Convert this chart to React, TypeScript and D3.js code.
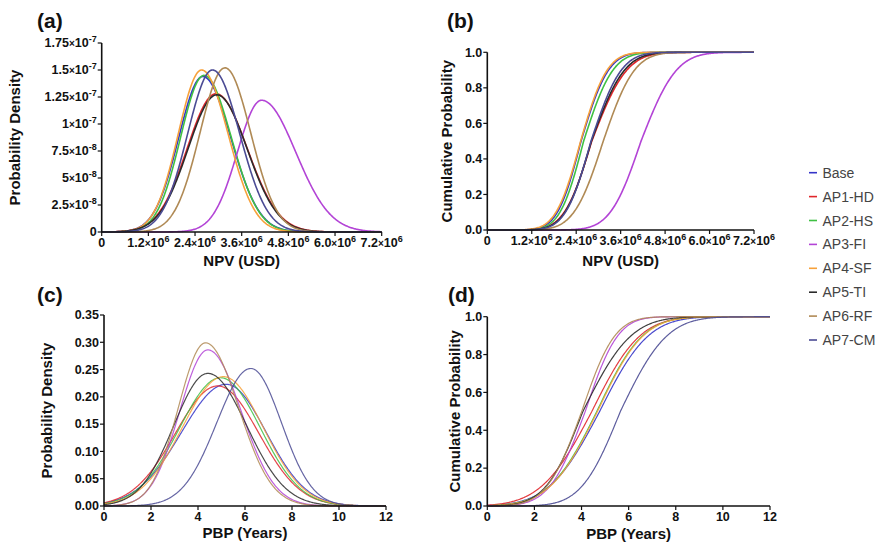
import React from "react";
import * as d3 from "d3";

const seriesNames = ["Base", "AP1-HD", "AP2-HS", "AP3-FI", "AP4-SF", "AP5-TI", "AP6-RF", "AP7-CM"];
const seriesColors = ["#3535c8", "#e0262b", "#3fc043", "#b344d6", "#f7a13a", "#2b2b2b", "#b08a55", "#4b4b94"];

// (a) NPV probability density: mode (×10^6 USD), peak (×10^-7), left/right spread (×10^6)
const npvPdfMode = [2.60, 2.94, 2.63, 4.11, 2.57, 2.96, 3.17, 2.85];
const npvPdfPeak = [1.44, 1.28, 1.45, 1.22, 1.50, 1.27, 1.52, 1.50];
const npvPdfSdL = [0.62, 0.74, 0.60, 0.62, 0.60, 0.74, 0.64, 0.64];
const npvPdfSdR = [0.72, 0.80, 0.70, 0.88, 0.68, 0.78, 0.66, 0.70];

// (b) NPV cumulative: median (×10^6), left/right spread
const npvCdfMedian = [2.53, 2.82, 2.60, 4.15, 2.52, 2.81, 3.13, 2.80];
const npvCdfSdL = [0.50, 0.58, 0.50, 0.65, 0.52, 0.56, 0.62, 0.54];
const npvCdfSdR = [0.58, 0.74, 0.62, 0.75, 0.56, 0.70, 0.66, 0.64];

// (c) PBP probability density: mode (years), peak, left/right spread
const pbpPdfMode = [5.20, 4.84, 4.96, 4.42, 5.08, 4.42, 4.32, 6.25];
const pbpPdfPeak = [0.223, 0.220, 0.235, 0.286, 0.237, 0.243, 0.299, 0.252];
const pbpPdfSdL = [1.90, 1.80, 1.75, 1.20, 1.75, 1.45, 1.15, 1.45];
const pbpPdfSdR = [1.70, 1.75, 1.70, 1.42, 1.70, 1.65, 1.40, 1.30];

// (d) PBP cumulative: median (years), left/right spread
const pbpCdfMedian = [4.77, 4.44, 4.65, 4.16, 4.68, 4.06, 4.01, 5.65];
const pbpCdfSdL = [1.70, 1.70, 1.60, 1.20, 1.60, 1.25, 1.18, 1.30];
const pbpCdfSdR = [1.62, 1.60, 1.52, 1.08, 1.52, 1.60, 1.10, 1.55];

// tick labels
const npvXTicks = [0, 1.2, 2.4, 3.6, 4.8, 6.0, 7.2];
const npvXTickLabels = ["0", "1.2", "2.4", "3.6", "4.8", "6.0", "7.2"];
const densYTicks = [0, 0.25, 0.5, 0.75, 1.0, 1.25, 1.5, 1.75];
const densYMant = ["0", "2.5", "5", "7.5", "1", "1.25", "1.5", "1.75"];
const densYExp = ["", "-8", "-8", "-8", "-7", "-7", "-7", "-7"];
const cumYTicks = [0, 0.2, 0.4, 0.6, 0.8, 1.0];
const cumYLabels = ["0.0", "0.2", "0.4", "0.6", "0.8", "1.0"];
const pbpXTicks = [0, 2, 4, 6, 8, 10, 12];
const pbpDensYTicks = [0, 0.05, 0.1, 0.15, 0.2, 0.25, 0.3, 0.35];
const pbpDensYLabels = ["0.00", "0.05", "0.10", "0.15", "0.20", "0.25", "0.30", "0.35"];

const FONT = "'Liberation Sans', Arial, Helvetica, sans-serif";

function erf(x: number) {
  const s = x < 0 ? -1 : 1;
  const a = Math.abs(x);
  const t = 1 / (1 + 0.3275911 * a);
  const y = 1 - (((((1.061405429 * t - 1.453152027) * t) + 1.421413741) * t - 0.284496736) * t + 0.254829592) * t * Math.exp(-a * a);
  return s * y;
}
const phi = (z: number) => 0.5 * (1 + erf(z / Math.SQRT2));

const pdfAt = (x: number, m: number, p: number, sl: number, sr: number) => {
  const s = x < m ? sl : sr;
  const z = (x - m) / s;
  return p * Math.exp(-0.5 * z * z);
};
const cdfAt = (x: number, m: number, sl: number, sr: number) => {
  const s = x < m ? sl : sr;
  return phi((x - m) / s);
};

type PanelProps = {
  x0: number; x1: number; y0: number; y1: number;
  xDomain: [number, number]; yDomain: [number, number];
  curves: ((x: number) => number)[];
  strokeW: number; opacity: number;
};

function Curves({ x0, x1, y0, y1, xDomain, yDomain, curves, strokeW, opacity }: PanelProps) {
  const xs = d3.scaleLinear().domain(xDomain).range([x0, x1]);
  const ys = d3.scaleLinear().domain(yDomain).range([y0, y1]);
  const grid = d3.range(0, 401).map((i) => xDomain[0] + (i / 400) * (xDomain[1] - xDomain[0]));
  const line = d3.line<number>().x((d) => xs(d));
  return (
    <g>
      {curves.map((f, i) => (
        <path
          key={i}
          d={line.y((d) => ys(f(d)))(grid) || ""}
          fill="none"
          stroke={seriesColors[i]}
          strokeWidth={strokeW}
          strokeOpacity={opacity}
        />
      ))}
    </g>
  );
}

function Axes(props: {
  x0: number; x1: number; y0: number; y1: number;
  xDomain: [number, number]; yDomain: [number, number];
  xTicks: number[]; yTicks: number[];
  xLabel: (i: number) => React.ReactNode;
  yLabel: (i: number) => React.ReactNode;
  xTitle: string; yTitle: string; yTitleX: number; xTitleY: number;
  xLabelDy: number;
}) {
  const { x0, x1, y0, y1, xDomain, yDomain, xTicks, yTicks } = props;
  const xs = d3.scaleLinear().domain(xDomain).range([x0, x1]);
  const ys = d3.scaleLinear().domain(yDomain).range([y0, y1]);
  return (
    <g fontFamily={FONT} fill="#111">
      <line x1={x0} x2={x1} y1={y0} y2={y0} stroke="#111" strokeWidth={1.6} />
      <line x1={x0} x2={x0} y1={y0} y2={y1} stroke="#111" strokeWidth={1.6} />
      {xTicks.map((t, i) => (
        <g key={"x" + i}>
          <line x1={xs(t)} x2={xs(t)} y1={y0} y2={y0 + 4} stroke="#111" strokeWidth={1.2} />
          <text x={xs(t)} y={y0 + props.xLabelDy} textAnchor="middle" fontSize={12.5} fontWeight="bold">
            {props.xLabel(i)}
          </text>
        </g>
      ))}
      {yTicks.map((t, i) => (
        <g key={"y" + i}>
          <line x1={x0 - 4} x2={x0} y1={ys(t)} y2={ys(t)} stroke="#111" strokeWidth={1.2} />
          <text x={x0 - 5} y={ys(t) + 4.3} textAnchor="end" fontSize={12.5} fontWeight="bold">
            {props.yLabel(i)}
          </text>
        </g>
      ))}
      <text x={(x0 + x1) / 2} y={props.xTitleY} textAnchor="middle" fontSize={15} fontWeight="bold">
        {props.xTitle}
      </text>
      <text
        transform={`translate(${props.yTitleX},${(y0 + y1) / 2}) rotate(-90)`}
        textAnchor="middle"
        fontSize={15}
        fontWeight="bold"
      >
        {props.yTitle}
      </text>
    </g>
  );
}

const sciLabel = (mant: string, exp: string) =>
  exp === "" ? (
    <tspan>{mant}</tspan>
  ) : (
    <>
      <tspan>{mant}</tspan>
      <tspan fontSize={10}>×</tspan>
      <tspan>10</tspan>
      <tspan fontSize={9} dy={-5}>{exp}</tspan>
    </>
  );

export default function App() {
  const A = { x0: 101.7, x1: 381.7, y0: 232, y1: 43 };
  const B = { x0: 487.3, x1: 754, y0: 230, y1: 52.3 };
  const C = { x0: 104, x1: 386, y0: 506, y1: 315 };
  const D = { x0: 487.3, x1: 770, y0: 506, y1: 316.7 };

  const npvPdf = seriesNames.map((_, i) => (x: number) =>
    pdfAt(x, npvPdfMode[i], npvPdfPeak[i], npvPdfSdL[i], npvPdfSdR[i]));
  const npvCdf = seriesNames.map((_, i) => (x: number) =>
    cdfAt(x, npvCdfMedian[i], npvCdfSdL[i], npvCdfSdR[i]));
  const pbpPdf = seriesNames.map((_, i) => (x: number) =>
    pdfAt(x, pbpPdfMode[i], pbpPdfPeak[i], pbpPdfSdL[i], pbpPdfSdR[i]));
  const pbpCdf = seriesNames.map((_, i) => (x: number) =>
    cdfAt(x, pbpCdfMedian[i], pbpCdfSdL[i], pbpCdfSdR[i]));

  const npvX = (i: number) => (i === 0 ? <tspan>0</tspan> : sciLabel(npvXTickLabels[i], "6"));

  return (
    <svg width={884} height={546} style={{ position: "absolute", left: 0, top: 0, background: "#fff" }}>
      <rect x={0} y={0} width={884} height={546} fill="#fff" />
      {/* (a) */}
      <Curves {...A} xDomain={[0, 7.2]} yDomain={[0, 1.75]} curves={npvPdf} strokeW={1.6} opacity={1} />
      <Axes
        {...A}
        xDomain={[0, 7.2]} yDomain={[0, 1.75]}
        xTicks={npvXTicks} yTicks={densYTicks}
        xLabel={npvX}
        yLabel={(i) => sciLabel(densYMant[i], densYExp[i])}
        xTitle="NPV (USD)" yTitle="Probability Density" yTitleX={20} xTitleY={266}
        xLabelDy={15}
      />
      {/* (b) */}
      <Curves {...B} xDomain={[0, 7.2]} yDomain={[0, 1]} curves={npvCdf} strokeW={1.6} opacity={1} />
      <Axes
        {...B}
        xDomain={[0, 7.2]} yDomain={[0, 1]}
        xTicks={npvXTicks} yTicks={cumYTicks}
        xLabel={npvX}
        yLabel={(i) => cumYLabels[i]}
        xTitle="NPV (USD)" yTitle="Cumulative Probability" yTitleX={452} xTitleY={266}
        xLabelDy={15}
      />
      {/* (c) */}
      <Curves {...C} xDomain={[0, 12]} yDomain={[0, 0.35]} curves={pbpPdf} strokeW={1.2} opacity={0.85} />
      <Axes
        {...C}
        xDomain={[0, 12]} yDomain={[0, 0.35]}
        xTicks={pbpXTicks} yTicks={pbpDensYTicks}
        xLabel={(i) => String(pbpXTicks[i])}
        yLabel={(i) => pbpDensYLabels[i]}
        xTitle="PBP (Years)" yTitle="Probability Density" yTitleX={52} xTitleY={538}
        xLabelDy={15}
      />
      {/* (d) */}
      <Curves {...D} xDomain={[0, 12]} yDomain={[0, 1]} curves={pbpCdf} strokeW={1.2} opacity={0.9} />
      <Axes
        {...D}
        xDomain={[0, 12]} yDomain={[0, 1]}
        xTicks={pbpXTicks} yTicks={cumYTicks}
        xLabel={(i) => String(pbpXTicks[i])}
        yLabel={(i) => cumYLabels[i]}
        xTitle="PBP (Years)" yTitle="Cumulative Probability" yTitleX={460} xTitleY={539}
        xLabelDy={15}
      />
      {/* panel letters */}
      <g fontFamily={FONT} fontWeight="bold" fontSize={21} fill="#111">
        <text x={37} y={28}>(a)</text>
        <text x={447} y={28}>(b)</text>
        <text x={37} y={302}>(c)</text>
        <text x={448} y={302}>(d)</text>
      </g>
      {/* legend */}
      <g fontFamily={FONT} fontSize={14} fill="#444">
        {seriesNames.map((n, i) => (
          <g key={n} transform={`translate(809,${172.7 + i * 23.9})`}>
            <line x1={0} x2={8} y1={0} y2={0} stroke={seriesColors[i]} strokeWidth={1.6} />
            <text x={13.5} y={5}>{n}</text>
          </g>
        ))}
      </g>
    </svg>
  );
}
